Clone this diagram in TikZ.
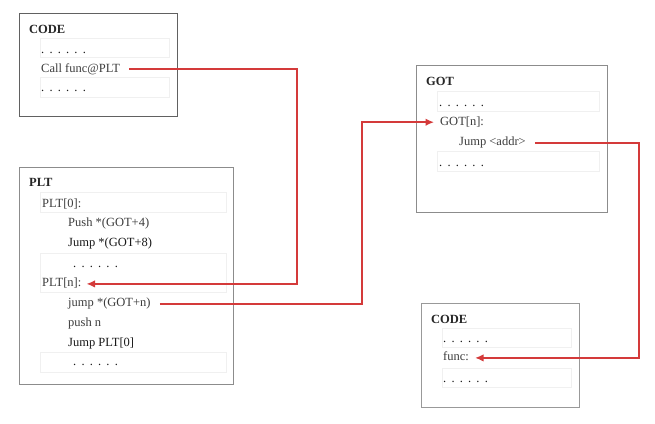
\documentclass[tikz,border=0pt]{standalone}
\usepackage{fontspec}
\setmainfont{Liberation Serif}
\usetikzlibrary{arrows.meta}
\definecolor{txt}{HTML}{3C3C3C}
\definecolor{redl}{HTML}{D43A3A}
\newcommand\sixdots{.\hskip5.2pt.\hskip5.2pt.\hskip5.2pt.\hskip5.2pt.\hskip5.2pt.}
\tikzset{
  mainbox/.style={draw=#1, line width=1pt, fill=white, anchor=north west, inner sep=0pt},
  faint/.style={draw=black!6, line width=0.8pt, fill=white, anchor=north west, inner sep=0pt},
  ttl/.style={anchor=base west, inner sep=0pt, font=\fontsize{12.5}{14}\selectfont\bfseries, text=black!85},
  ln/.style={anchor=base west, inner sep=0pt, font=\fontsize{12.5}{14}\selectfont, text=txt},
  dk/.style={ln, text=black!90},
  redline/.style={draw=redl, line width=1.5pt},
  redarrow/.style={redline, -{Latex[length=8.5pt,width=7.5pt]}}
}
\begin{document}
\begin{tikzpicture}[x=1pt,y=-1pt]
\useasboundingbox (0,0) rectangle (655,423);
% ---- CODE (top left)
\node[mainbox=black!62, minimum width=158pt, minimum height=103pt] (codeA) at (19,13) {};
\node[faint, minimum width=129pt, minimum height=19pt] (codeAf1) at (40,38) {};
\node[faint, minimum width=129pt, minimum height=20pt] (codeAf2) at (40,77) {};
\node[ttl] (codeAt) at (29,33.3) {CODE};
\node[dk] (codeAd1) at (41,53) {\sixdots};
\node[ln] (call) at (41,72.5) {Call func@PLT};
\node[dk] (codeAd2) at (41,91) {\sixdots};
% ---- PLT
\node[mainbox=black!45, minimum width=214pt, minimum height=217pt] (plt) at (19,167) {};
\node[faint, minimum width=186pt, minimum height=20pt] (pltf1) at (40,192) {};
\node[faint, minimum width=186pt, minimum height=39pt] (pltf2) at (40,253) {};
\node[faint, minimum width=186pt, minimum height=20pt] (pltf3) at (40,352) {};
\node[ttl] (pltt) at (29,186.7) {PLT};
\node[ln] (plt0) at (42,207.5) {PLT[0]:};
\node[ln] (push4) at (68,226.7) {Push *(GOT+4)};
\node[dk] (jump8) at (68,246) {Jump *(GOT+8)};
\node[dk] (pltd1) at (73,267.3) {\sixdots};
\node[ln] (pltn) at (42,286.7) {PLT[n]:};
\node[ln] (jumpn) at (68,306.7) {jump *(GOT+n)};
\node[ln] (pushn) at (68,326.7) {push n};
\node[dk] (jumpplt) at (68,346.5) {Jump PLT[0]};
\node[dk] (pltd2) at (73,365) {\sixdots};
% ---- GOT
\node[mainbox=black!45, minimum width=191pt, minimum height=147pt] (got) at (416,65) {};
\node[faint, minimum width=162pt, minimum height=20pt] (gotf1) at (437,91) {};
\node[faint, minimum width=162pt, minimum height=20pt] (gotf2) at (437,151) {};
\node[ttl] (gott) at (426,85.7) {GOT};
\node[dk] (gotd1) at (439,106.7) {\sixdots};
\node[ln] (gotn) at (440,125) {GOT[n]:};
\node[ln] (addr) at (459,145.7) {Jump <addr>};
\node[dk] (gotd2) at (439,166) {\sixdots};
% ---- CODE (bottom right)
\node[mainbox=black!40, minimum width=158pt, minimum height=104pt] (codeB) at (421,303) {};
\node[faint, minimum width=129pt, minimum height=19pt] (codeBf1) at (442,328) {};
\node[faint, minimum width=129pt, minimum height=19pt] (codeBf2) at (442,368) {};
\node[ttl] (codeBt) at (431,323.3) {CODE};
\node[dk] (codeBd1) at (443,342.7) {\sixdots};
\node[ln] (func) at (443,360.7) {func:};
\node[dk] (codeBd2) at (443,382) {\sixdots};
% ---- connectors
\coordinate (k1) at (297,0);
\coordinate (k2) at (362,0);
\coordinate (k3) at (639,0);
\coordinate (s1) at ([xshift=9pt,yshift=1pt]call.mid east);
\coordinate (e1) at ([xshift=5pt,yshift=0.5pt]pltn.mid east);
\coordinate (s2) at ([xshift=9pt,yshift=0.5pt]jumpn.mid east);
\coordinate (e2) at ([xshift=-6pt,yshift=0.5pt]gotn.mid west);
\coordinate (s3) at ([xshift=9pt,yshift=0.5pt]addr.mid east);
\coordinate (e3) at ([xshift=6pt,yshift=0.5pt]func.mid east);
\draw[redarrow] (s1) -- (s1 -| k1) |- (e1);
\draw[redarrow] (s2) -- (s2 -| k2) |- (e2);
\draw[redarrow] (s3) -- (s3 -| k3) |- (e3);
\end{tikzpicture}
\end{document}
